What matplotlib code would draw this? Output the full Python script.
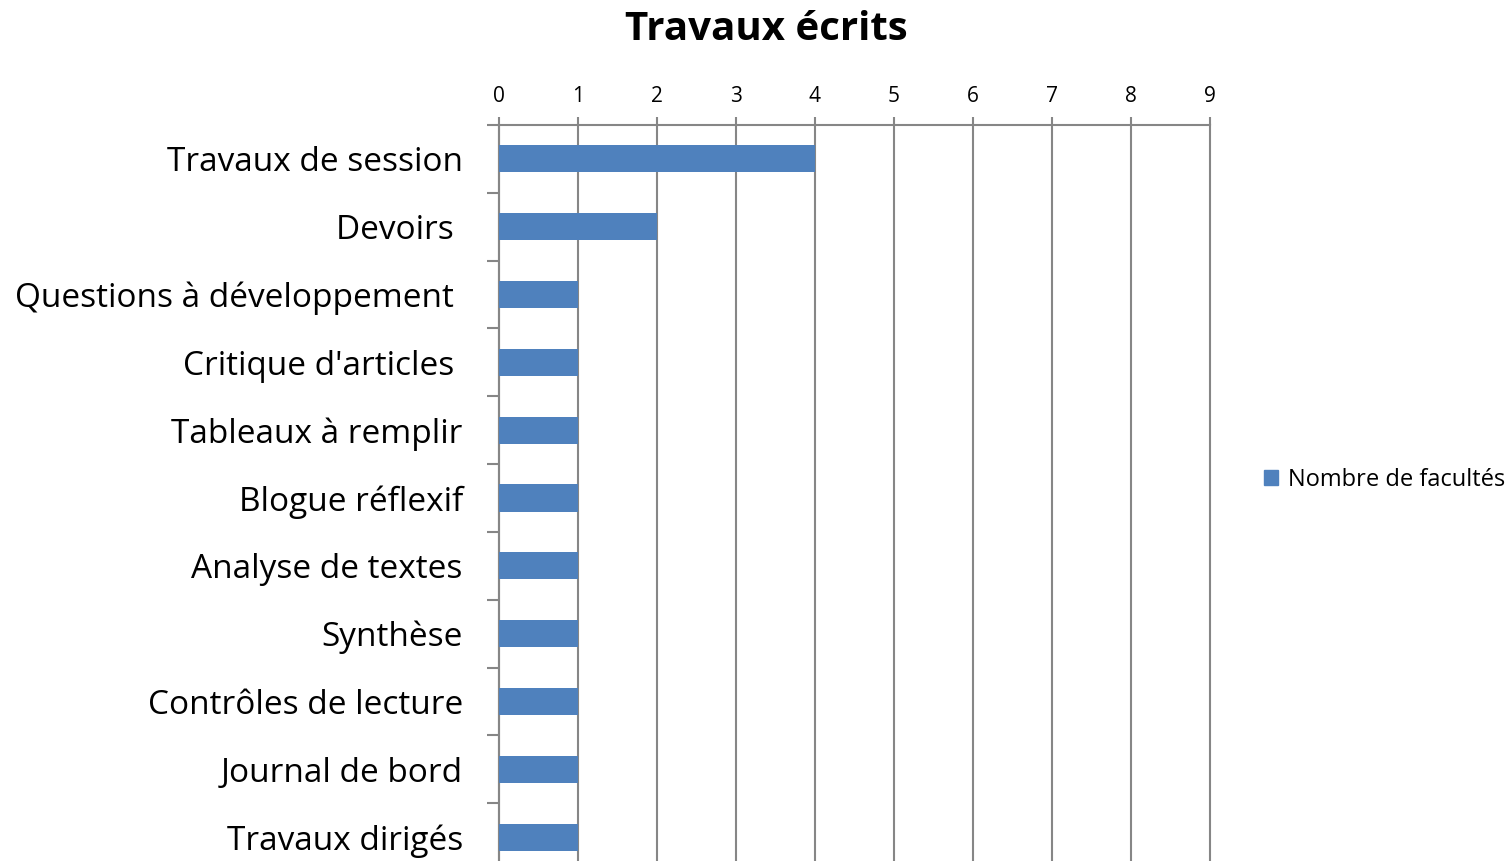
import matplotlib.pyplot as plt
from matplotlib.patches import Patch

plt.rcParams['font.family'] = ['Open Sans', 'DejaVu Sans']

categories = ["Travaux de session", "Devoirs ", "Questions à développement ",
              "Critique d'articles ", "Tableaux à remplir", "Blogue réflexif",
              "Analyse de textes", "Synthèse", "Contrôles de lecture",
              "Journal de bord", "Travaux dirigés"]
values = [4, 2, 1, 1, 1, 1, 1, 1, 1, 1, 1]
ticks = list(range(0, 10))

blue = "#4F81BD"
grey = "#868686"

fig = plt.figure(figsize=(15.12, 8.61), dpi=100)
ax = fig.add_axes([0.330, -0.0116, 0.470, 0.8664])

pos = list(range(len(categories)))
ax.barh(pos, values, height=0.4, color=blue, zorder=3)
ax.set_ylim(len(categories) - 0.5, -0.5)
ax.set_xlim(0, 9)

ax.xaxis.tick_top()
ax.set_xticks(ticks)
ax.set_xticklabels([str(t) for t in ticks], fontsize=15)
ax.tick_params(axis='x', length=6, width=1.5, color=grey, pad=7)
ax.grid(axis='x', color=grey, linewidth=1.5, zorder=0)
for line in ax.get_xgridlines():
    line.set_clip_on(False)

ax.set_yticks([p - 0.5 for p in pos] + [len(pos) - 0.5])
ax.set_yticklabels([])
ax.set_yticks(pos, minor=True)
ax.set_yticklabels(categories, minor=True, fontsize=24)
ax.tick_params(axis='y', which='major', length=9, width=1.5, color=grey)
ax.tick_params(axis='y', which='minor', length=0, pad=26)

for s in ['right', 'bottom']:
    ax.spines[s].set_visible(False)
for s in ['top', 'left']:
    ax.spines[s].set_color(grey)
    ax.spines[s].set_linewidth(1.5)

fig.text(0.507, 0.966, "Travaux écrits", ha='center', va='center',
         fontsize=29, fontweight='bold')

fig.legend(handles=[Patch(color=blue, label="Nombre de facultés")],
           loc='center left', bbox_to_anchor=(0.822, 0.443), frameon=False,
           fontsize=17, handlelength=0.6, handleheight=0.6, handletextpad=0.4)

fig.savefig("out.png", dpi=100)
